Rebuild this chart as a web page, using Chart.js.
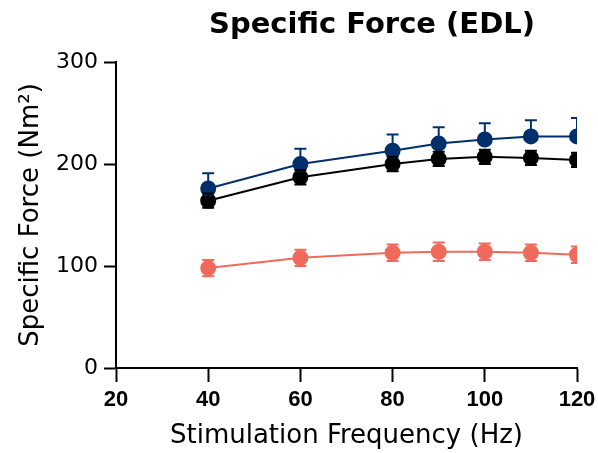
<!DOCTYPE html>
<html>
<head>
<meta charset="utf-8">
<script src="https://cdn.jsdelivr.net/npm/chart.js@4.4.1/dist/chart.umd.min.js"></script>
<style>
html,body{margin:0;padding:0;background:#fff;}
#wrap{width:598px;height:453px;position:relative;}
</style>
</head>
<body>
<div id="wrap"><canvas id="c" width="598" height="453"></canvas></div>
<script>
const frequencies = [40, 60, 80, 90, 100, 110, 120];
const blueMean = [176, 200, 213, 220, 224, 227, 227];
const blueErr  = [15, 15, 16, 16, 16, 16, 18];
const blackMean = [164, 187, 200, 205, 207, 206, 204];
const blackErr  = [7, 7, 7, 7, 7, 7, 7];
const redMean = [98, 108, 113, 114, 114, 113, 111];
const redErr  = [8, 8, 8, 9, 8, 8, 8];
const xTicks = [20, 40, 60, 80, 100, 120];
const yTicks = [0, 100, 200, 300];

const BLUE = '#002f6c';
const BLACK = '#000000';
const RED = '#f06a5c';

function pts(means){ return frequencies.map((f,i)=>({x:f,y:means[i]})); }

const errorBarPlugin = {
  id: 'errorBars',
  afterDatasetsDraw(chart) {
    const ctx = chart.ctx, xs = chart.scales.x, ys = chart.scales.y, a = chart.chartArea;
    ctx.save();
    ctx.beginPath();
    ctx.rect(a.left, a.top - 20, a.right - a.left, a.bottom - a.top + 20);
    ctx.clip();
    chart.data.datasets.forEach(ds => {
      const errs = ds.errors, upOnly = ds.upperOnly;
      ctx.strokeStyle = ds.borderColor;
      ctx.lineWidth = 2;
      ds.data.forEach((p, i) => {
        const x = xs.getPixelForValue(p.x);
        const yHi = ys.getPixelForValue(p.y + errs[i]);
        const yLo = ys.getPixelForValue(upOnly ? p.y : p.y - errs[i]);
        ctx.beginPath();
        ctx.moveTo(x, yHi); ctx.lineTo(x, yLo);
        ctx.moveTo(x - 6, yHi); ctx.lineTo(x + 6, yHi);
        if (!upOnly) { ctx.moveTo(x - 6, yLo); ctx.lineTo(x + 6, yLo); }
        ctx.stroke();
      });
    });
    ctx.restore();
  }
};

const titlePlugin = {
  id: 'mainTitle',
  afterDraw(chart) {
    const ctx = chart.ctx;
    ctx.save();
    ctx.font = 'bold 29px "DejaVu Sans"';
    ctx.fillStyle = '#000';
    ctx.textAlign = 'center';
    ctx.textBaseline = 'alphabetic';
    ctx.fillText('Specific Force (EDL)', 372, 33);
    ctx.restore();
  }
};

new Chart(document.getElementById('c'), {
  type: 'line',
  data: {
    datasets: [
      { label: 'Blue', data: pts(blueMean), errors: blueErr, upperOnly: true,
        borderColor: BLUE, backgroundColor: BLUE, pointBackgroundColor: BLUE, pointBorderColor: BLUE,
        borderWidth: 2, pointRadius: 7, pointHoverRadius: 7, tension: 0, order: 1 },
      { label: 'Black', data: pts(blackMean), errors: blackErr, upperOnly: false,
        borderColor: BLACK, backgroundColor: BLACK, pointBackgroundColor: BLACK, pointBorderColor: BLACK,
        borderWidth: 2, pointRadius: 7, pointHoverRadius: 7, tension: 0, order: 2 },
      { label: 'Red', data: pts(redMean), errors: redErr, upperOnly: false,
        borderColor: RED, backgroundColor: RED, pointBackgroundColor: RED, pointBorderColor: RED,
        borderWidth: 2, pointRadius: 7, pointHoverRadius: 7, tension: 0, order: 3 }
    ]
  },
  options: {
    responsive: false,
    animation: false,
    layout: { padding: { left: 0, right: 0, top: 62, bottom: 0 } },
    plugins: { legend: { display: false }, tooltip: { enabled: false }, title: { display: false } },
    scales: {
      x: {
        type: 'linear', min: 20, max: 120,
        afterBuildTicks(s) { s.ticks = xTicks.map(v => ({ value: v })); },
        afterFit(s) { s.height = 85; s.paddingRight = 21; },
        grid: { drawOnChartArea: false, drawTicks: true, tickLength: 14, tickColor: '#000', tickWidth: 2 },
        border: { display: true, color: '#000', width: 2 },
        ticks: { color: '#000', font: { family: 'Liberation Sans', size: 22, weight: 'bold' }, padding: 5, maxRotation: 0 },
        title: { display: true, text: 'Stimulation Frequency (Hz)', color: '#000',
          font: { family: 'DejaVu Sans', size: 26 }, padding: { bottom: 1, top: 0 } }
      },
      y: {
        type: 'linear', min: 0, max: 300,
        afterBuildTicks(s) { s.ticks = yTicks.map(v => ({ value: v })); },
        afterFit(s) { s.width = 116; },
        grid: { drawOnChartArea: false, drawTicks: true, tickLength: 12, tickColor: '#000', tickWidth: 2 },
        border: { display: true, color: '#000', width: 2 },
        ticks: { color: '#000', font: { family: 'DejaVu Sans', size: 22 }, padding: 6 },
        title: { display: true, text: 'Specific Force (Nm²)', color: '#000',
          font: { family: 'DejaVu Sans', size: 26 }, padding: { top: 16, bottom: 0 } }
      }
    }
  },
  plugins: [errorBarPlugin, titlePlugin]
});
</script>
</body>
</html>
